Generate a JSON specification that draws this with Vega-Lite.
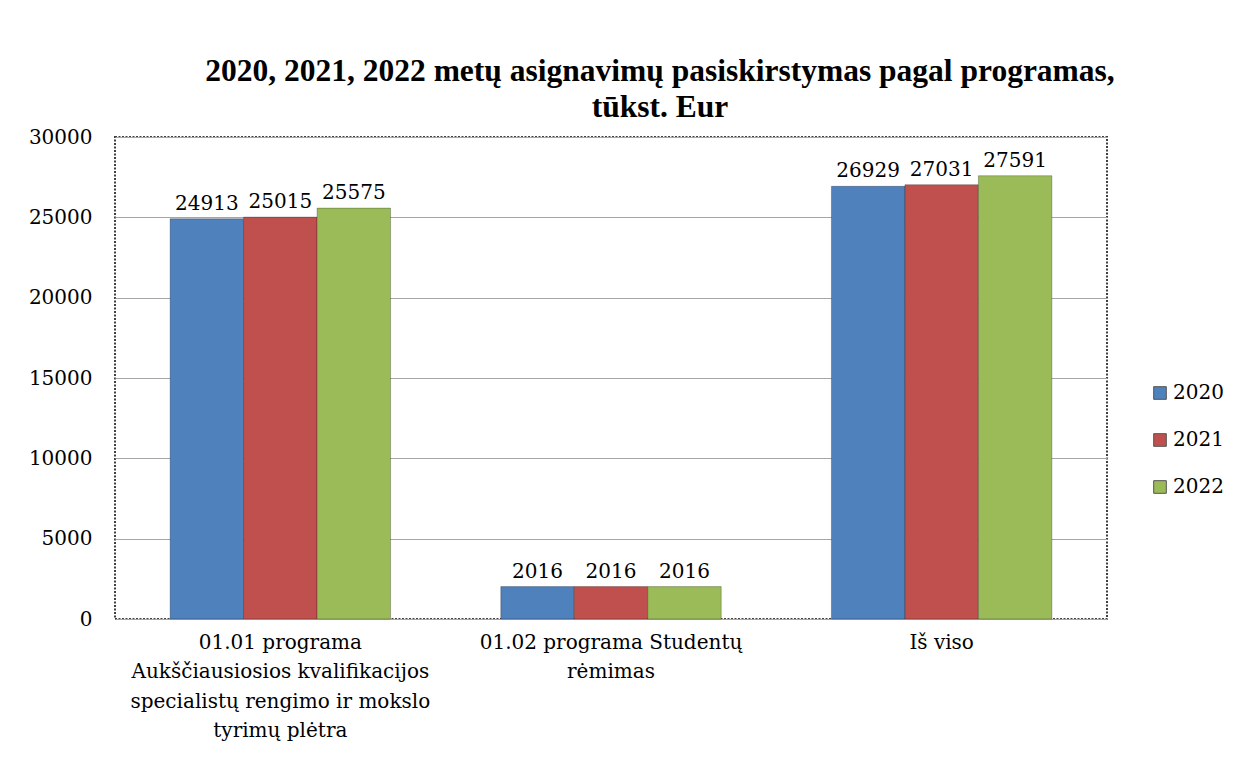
{
  "$schema": "https://vega.github.io/schema/vega-lite/v6.json",
  "autosize": {"type": "none"},
  "width": 992,
  "height": 482,
  "padding": {"left": 115, "top": 137, "right": 144, "bottom": 148},
  "background": "white",
  "title": {
    "text": ["2020, 2021, 2022 metų asignavimų pasiskirstymas pagal programas,", "tūkst. Eur"],
    "font": "Liberation Serif",
    "fontSize": 31.5,
    "fontWeight": "bold",
    "color": "#000000",
    "anchor": "middle",
    "frame": "group",
    "dx": 49,
    "offset": 4,
    "lineHeight": 36
  },
  "data": {
    "values": [
      {"programa": "01.01 programa Aukščiausiosios kvalifikacijos specialistų rengimo ir mokslo tyrimų plėtra", "metai": "2020", "suma": 24913},
      {"programa": "01.01 programa Aukščiausiosios kvalifikacijos specialistų rengimo ir mokslo tyrimų plėtra", "metai": "2021", "suma": 25015},
      {"programa": "01.01 programa Aukščiausiosios kvalifikacijos specialistų rengimo ir mokslo tyrimų plėtra", "metai": "2022", "suma": 25575},
      {"programa": "01.02 programa Studentų rėmimas", "metai": "2020", "suma": 2016},
      {"programa": "01.02 programa Studentų rėmimas", "metai": "2021", "suma": 2016},
      {"programa": "01.02 programa Studentų rėmimas", "metai": "2022", "suma": 2016},
      {"programa": "Iš viso", "metai": "2020", "suma": 26929},
      {"programa": "Iš viso", "metai": "2021", "suma": 27031},
      {"programa": "Iš viso", "metai": "2022", "suma": 27591}
    ]
  },
  "encoding": {
    "x": {
      "field": "programa",
      "type": "nominal",
      "sort": null,
      "scale": {"paddingInner": 0.3333, "paddingOuter": 0.1667},
      "axis": {
        "title": null,
        "labelAngle": 0,
        "domain": false,
        "ticks": false,
        "labelFont": "DejaVu Serif",
        "labelFontSize": 20,
        "labelColor": "#000000",
        "labelPadding": 13,
        "labelBaseline": "top",
        "labelLineHeight": 29.5,
        "labelLimit": 0,
        "labelExpr": "datum.value == 'Iš viso' ? datum.value : (datum.value == '01.02 programa Studentų rėmimas' ? ['01.02 programa Studentų', 'rėmimas'] : ['01.01 programa', 'Aukščiausiosios kvalifikacijos', 'specialistų rengimo ir mokslo', 'tyrimų plėtra'])"
      }
    },
    "xOffset": {"field": "metai", "type": "nominal", "scale": {"paddingInner": 0, "paddingOuter": 0}},
    "y": {
      "field": "suma",
      "type": "quantitative",
      "scale": {"domain": [0, 30000], "nice": false},
      "axis": {
        "title": null,
        "values": [0, 5000, 10000, 15000, 20000, 25000, 30000],
        "format": "d",
        "domain": false,
        "ticks": false,
        "labelFont": "DejaVu Serif",
        "labelFontSize": 20,
        "labelColor": "#000000",
        "labelPadding": 23,
        "gridColor": "#a6a6a6",
        "gridWidth": 1.2
      }
    }
  },
  "layer": [
    {
      "mark": {"type": "bar", "stroke": "#000000", "strokeOpacity": 0.25, "strokeWidth": 1},
      "encoding": {
        "color": {
          "field": "metai",
          "type": "nominal",
          "scale": {"domain": ["2020", "2021", "2022"], "range": ["#4f81bd", "#c0504d", "#9bbb59"]},
          "legend": {
            "title": null,
            "orient": "none",
            "legendX": 1035,
            "legendY": 246,
            "symbolType": "square",
            "symbolSize": 160,
            "symbolStrokeWidth": 1,
            "symbolStrokeColor": "#555555",
            "labelFont": "DejaVu Serif",
            "labelFontSize": 20,
            "labelColor": "#000000",
            "labelOffset": 3,
            "rowPadding": 27
          }
        }
      }
    },
    {
      "mark": {"type": "text", "baseline": "alphabetic", "dy": -9, "font": "DejaVu Serif", "fontSize": 20, "color": "#000000"},
      "encoding": {"text": {"field": "suma", "type": "quantitative", "format": "d"}}
    }
  ],
  "config": {
    "view": {"stroke": "#404040", "strokeWidth": 2, "strokeDash": [2, 1.5]}
  }
}
